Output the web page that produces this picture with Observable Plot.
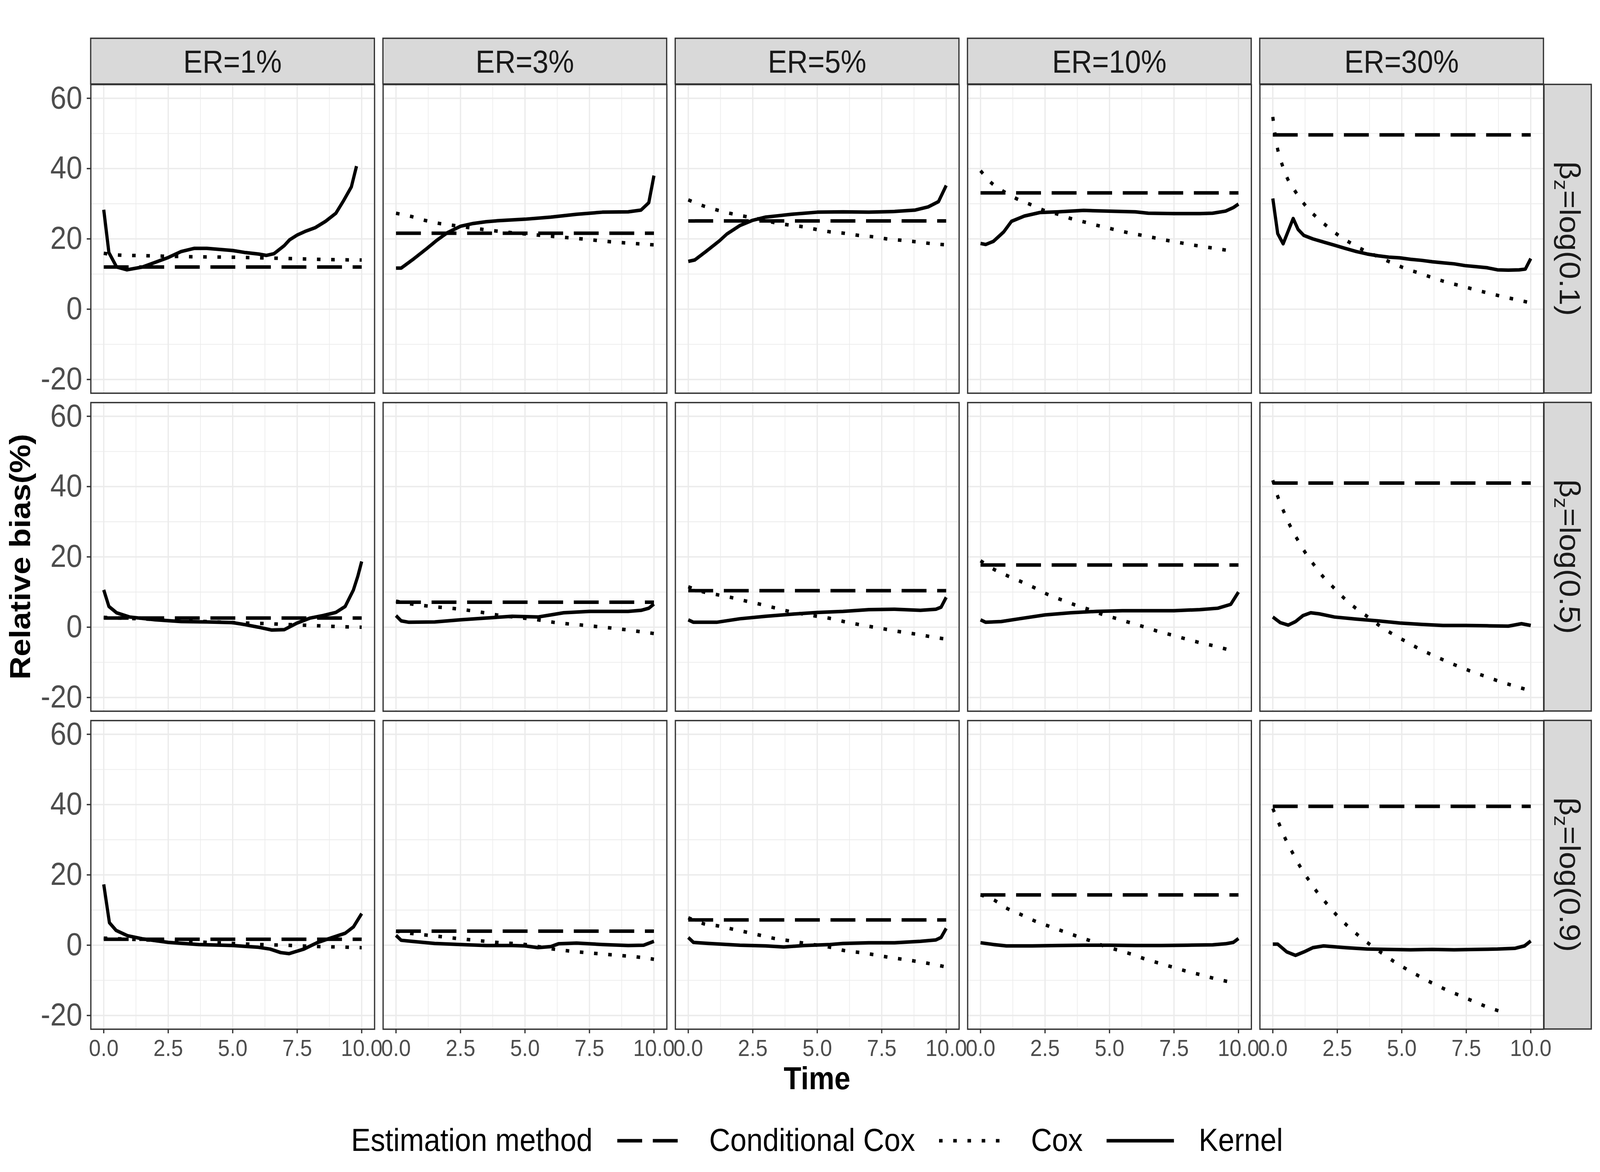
<!DOCTYPE html>
<html><head><meta charset="utf-8">
<script src="https://cdn.jsdelivr.net/npm/d3@7"></script>
<script src="https://cdn.jsdelivr.net/npm/@observablehq/plot@0.6"></script>
<style>
html,body{margin:0;padding:0;background:#fff;overflow:hidden;}
#page{width:4500px;height:3000px;transform-origin:0 0;background:#fff;}
#chart svg{display:block;}
#legend{position:relative;width:4500px;height:160px;font-family:'Liberation Sans',Arimo,Arial,sans-serif;font-size:82px;color:#000;}
#legend .row{position:absolute;top:0;height:160px;display:flex;align-items:center;white-space:nowrap;line-height:1;}
#legend svg{display:block;}
</style></head><body>
<div id="page"><div id="chart"></div><div id="legend"><div class="row" id="legendRow"></div></div></div>
<script>
// ---------- categories ----------
const erLevels = ["ER=1%", "ER=3%", "ER=5%", "ER=10%", "ER=30%"];
const betaLevels = ["log(0.1)", "log(0.5)", "log(0.9)"];
const methods = ["Conditional Cox", "Cox", "Kernel"];
const xTicks = [0, 2.5, 5, 7.5, 10];
const xMinor = [1.25, 3.75, 6.25, 8.75];
const yTicks = [-20, 0, 20, 40, 60];
const yMinor = [-10, 10, 30, 50];

// ---------- Conditional Cox (constant over time), rows = beta, cols = ER ----------
const condCox_b01 = [12.0, 21.6, 25.1, 33.1, 49.6];
const condCox_b05 = [2.6, 7.1, 10.4, 17.7, 41.0];
const condCox_b09 = [1.7, 4.0, 7.2, 14.3, 39.5];
const condCoxSpan = [0, 10];

// ---------- Cox [time, bias] ----------
const cox_b01_er1 = [[0,15.9],[0.6,15.4],[1.7,15.2],[2.8,15.0],[5.6,14.7],[6.7,14.5],[7.7,14.3],[8.8,14.1],[10,14.0]];
const cox_b01_er3 = [[0,27.3],[0.58,26.4],[1.16,25.2],[1.67,24.4],[2.26,23.8],[2.84,23.2],[4.44,21.8],[6.1,20.7],[7.2,20.0],[8.3,19.2],[9.4,18.6],[10,18.3]];
const cox_b01_er5 = [[0,31.1],[0.54,29.5],[1.12,28.2],[1.66,27.2],[2.2,26.4],[2.77,25.6],[3.3,24.7],[3.86,24.0],[4.4,23.5],[4.96,22.7],[5.5,22.0],[6.05,21.6],[6.6,21.0],[7.17,20.6],[7.7,20.0],[8.26,19.6],[8.8,19.2],[9.37,18.7],[10,18.3]];
const cox_b01_er10 = [[0,39.4],[0.44,35.8],[0.87,33.6],[1.38,31.5],[1.9,29.9],[2.43,28.2],[3,27.0],[3.5,25.8],[4.08,24.7],[4.6,23.7],[5.17,22.7],[5.7,21.8],[6.27,21.0],[6.82,20.2],[7.36,19.4],[7.9,18.7],[8.45,18.0],[9,17.4],[9.7,16.6]];
const cox_b01_er30 = [[0,54.7],[0.08,50.1],[0.18,45.8],[0.35,41.4],[0.56,37.3],[0.88,33.4],[1.23,29.8],[1.66,26.4],[2.1,23.6],[2.55,21.0],[3.02,18.8],[3.55,16.7],[4.06,15.0],[4.58,13.3],[5.13,11.6],[5.66,10.3],[6.18,9.0],[6.73,7.7],[7.26,6.7],[7.81,5.6],[8.35,4.6],[8.9,3.6],[9.45,2.7],[10,1.8]];
const cox_b05_er1 = [[0,2.8],[1,2.5],[2,2.2],[3,1.9],[4,1.6],[5,1.3],[6,1.1],[7,0.8],[8,0.5],[9,0.2],[10,0.0]];
const cox_b05_er3 = [[0,7.4],[0.6,6.6],[1.67,5.7],[2.26,5.3],[3.35,4.2],[3.9,3.5],[5.5,2.1],[6.1,1.4],[7.2,0.6],[8.3,-0.2],[8.9,-0.7],[9.4,-1.2],[10,-1.8]];
const cox_b05_er5 = [[0,11.5],[0.6,10.0],[1.15,9.2],[1.7,8.4],[2.26,7.4],[2.8,6.5],[3.35,5.5],[3.9,4.5],[5,3.1],[5.57,2.4],[6.1,1.5],[6.66,0.7],[7.2,0.0],[7.75,-0.7],[8.3,-1.4],[8.85,-2.0],[9.4,-2.7],[10,-3.4]];
const cox_b05_er10 = [[0,18.9],[0.51,16.5],[1.02,14.7],[1.56,13.0],[2.07,11.3],[2.58,9.4],[3.13,7.8],[3.64,6.4],[4.18,5.1],[4.7,3.7],[5.25,2.5],[5.79,1.3],[6.34,0.1],[6.85,-1.1],[7.4,-2.2],[7.94,-3.3],[8.5,-4.4],[9.04,-5.3],[9.7,-6.6]];
const cox_b05_er30 = [[0,41.8],[0.2,37.0],[0.43,32.8],[0.68,28.7],[0.96,24.9],[1.26,21.2],[1.61,17.6],[1.97,14.2],[2.38,11.1],[2.8,8.0],[3.25,5.2],[3.73,2.7],[4.2,0.1],[4.68,-2.1],[5.17,-4.1],[5.66,-6.1],[6.18,-7.9],[6.7,-9.6],[7.25,-11.3],[7.78,-12.8],[8.32,-14.2],[8.86,-15.6],[9.4,-16.8],[10,-18.1]];
const cox_b09_er1 = [[0,2.0],[1,1.7],[2,1.4],[3,1.1],[4,0.8],[5,0.5],[6,0.2],[7,0.0],[8,-0.3],[9,-0.5],[10,-0.7]];
const cox_b09_er3 = [[0,4.0],[0.54,3.4],[1.67,2.5],[2.26,2.0],[2.8,1.6],[3.9,0.8],[5,0.2],[6.1,-1.1],[7.2,-2.0],[8.3,-2.7],[9.4,-3.4],[10,-4.0]];
const cox_b09_er5 = [[0,7.8],[0.6,6.1],[1.15,5.5],[1.7,4.6],[2.26,3.7],[2.8,2.8],[3.35,1.9],[3.9,1.3],[4.47,0.6],[5.57,-0.7],[6.1,-1.6],[6.66,-2.1],[7.2,-2.7],[7.75,-3.4],[8.3,-4.0],[8.85,-4.6],[9.4,-5.3],[10,-6.2]];
const cox_b09_er10 = [[0,14.3],[0.51,12.9],[1.02,10.5],[1.57,8.7],[2.1,6.9],[2.62,5.5],[3.18,4.0],[3.72,2.6],[4.2,1.4],[4.74,-0.1],[5.28,-1.3],[5.83,-2.5],[6.37,-3.9],[6.92,-5.1],[7.43,-6.2],[7.99,-7.4],[8.53,-8.4],[9.08,-9.5],[9.75,-10.6]];
const cox_b09_er30 = [[0,38.9],[0.24,34.6],[0.48,30.4],[0.75,26.5],[1.04,22.6],[1.36,18.9],[1.7,15.3],[2.08,11.9],[2.47,8.6],[2.88,5.6],[3.33,2.7],[3.8,0.0],[4.26,-2.4],[4.73,-4.8],[5.23,-7.0],[5.72,-9.0],[6.24,-11.0],[6.76,-12.8],[7.28,-14.4],[7.79,-16.0],[8.32,-17.6],[8.9,-19.0]];

// ---------- Kernel [time, bias] ----------
const ker_b01_er1 = [[0,28.3],[0.2,16.1],[0.5,12.0],[0.9,11.2],[1.5,12.0],[2.5,14.7],[3,16.4],[3.5,17.3],[4,17.3],[5,16.7],[5.5,16.1],[6,15.7],[6.3,15.3],[6.6,15.8],[7,18.1],[7.2,19.7],[7.5,21.1],[7.8,22.1],[8.2,23.2],[8.6,25.0],[9,27.3],[9.3,30.9],[9.6,34.8],[9.8,40.7]];
const ker_b01_er3 = [[0,11.7],[0.2,11.7],[0.7,14.4],[1.2,17.3],[1.6,19.7],[2,21.8],[2.5,23.6],[3,24.4],[3.5,24.9],[4,25.2],[5,25.6],[6,26.2],[7,27.0],[8,27.6],[9,27.7],[9.5,28.2],[9.8,30.3],[10,38.0]];
const ker_b01_er5 = [[0,13.6],[0.25,14.0],[0.7,16.5],[1.2,19.4],[1.5,21.4],[2,23.8],[2.5,25.3],[3,26.2],[3.5,26.6],[4,27.0],[5,27.6],[6,27.7],[7,27.6],[8,27.8],[8.8,28.2],[9.3,29.1],[9.7,30.6],[10,35.2]];
const ker_b01_er10 = [[0,18.7],[0.2,18.4],[0.5,19.3],[0.9,22.0],[1.2,25.0],[1.7,26.5],[2.3,27.5],[3,27.7],[4,28.1],[5,27.9],[6,27.7],[6.5,27.3],[7.5,27.2],[8.5,27.2],[9,27.3],[9.5,27.9],[9.8,28.9],[10,29.9]];
const ker_b01_er30 = [[0,31.5],[0.19,21.5],[0.4,18.6],[0.79,25.8],[0.98,22.7],[1.2,21.0],[1.55,20.0],[1.97,19.1],[2.39,18.2],[2.81,17.3],[3.24,16.4],[3.66,15.7],[4.08,15.2],[4.5,14.8],[4.92,14.6],[5.34,14.2],[5.76,13.9],[6.18,13.5],[6.6,13.2],[7.03,12.9],[7.45,12.4],[7.87,12.1],[8.3,11.8],[8.71,11.2],[9.13,11.1],[9.55,11.2],[9.79,11.4],[10,14.4]];
const ker_b05_er1 = [[0,10.6],[0.2,5.9],[0.5,4.1],[1,2.9],[2,2.1],[3,1.6],[4,1.5],[5,1.3],[5.5,0.7],[6,0.0],[6.5,-0.8],[7,-0.7],[7.5,1.2],[8,2.6],[8.5,3.3],[9,4.2],[9.36,5.9],[9.68,10.6],[9.85,14.5],[10,18.7]];
const ker_b05_er3 = [[0,3.3],[0.2,1.8],[0.5,1.4],[1.5,1.5],[2.5,2.1],[3.5,2.6],[4.5,3.1],[5.5,2.9],[6,3.5],[6.5,4.1],[7.5,4.5],[8.5,4.5],[9,4.5],[9.5,4.8],[9.8,5.4],[10,6.6]];
const ker_b05_er5 = [[0,2.1],[0.2,1.4],[1.1,1.4],[2,2.4],[3,3.1],[4,3.7],[5,4.2],[6,4.5],[7,5.0],[8,5.1],[9,4.8],[9.6,5.1],[9.8,5.7],[10,8.5]];
const ker_b05_er10 = [[0,2.1],[0.2,1.4],[0.8,1.6],[1.5,2.4],[2.5,3.5],[3.5,4.1],[4.5,4.5],[5.5,4.7],[6.5,4.7],[7.5,4.7],[8.5,5.0],[9.2,5.4],[9.7,6.5],[10,10.0]];
const ker_b05_er30 = [[0,2.9],[0.29,1.3],[0.6,0.6],[0.88,1.6],[1.17,3.3],[1.47,4.1],[1.8,3.8],[2.39,2.9],[3.24,2.3],[4.08,1.8],[4.92,1.2],[5.76,0.8],[6.6,0.5],[7.45,0.5],[8.3,0.4],[9.13,0.3],[9.64,1.0],[10,0.5]];
const ker_b09_er1 = [[0,17.3],[0.22,6.4],[0.48,4.2],[0.92,2.7],[1.5,1.8],[2.5,0.8],[3.68,0.2],[5,-0.1],[6,-0.6],[6.45,-1.1],[6.86,-2.1],[7.18,-2.4],[7.76,-1.1],[8.27,0.7],[8.78,2.0],[9.36,3.4],[9.68,5.2],[10,9.0]];
const ker_b09_er3 = [[0,2.8],[0.2,1.4],[0.6,1.1],[1.5,0.5],[2.5,0.2],[3.5,-0.1],[4.5,-0.1],[5,-0.2],[5.5,-0.7],[6,-0.4],[6.3,0.4],[7,0.6],[8,0.2],[9,-0.1],[9.6,0.0],[10,1.1]];
const ker_b09_er5 = [[0,2.2],[0.2,0.8],[0.8,0.5],[2,0.0],[3,-0.2],[3.7,-0.5],[4.5,-0.1],[5.5,0.2],[6,0.5],[7,0.7],[8,0.7],[9,1.1],[9.6,1.5],[9.8,2.2],[10,4.8]];
const ker_b09_er10 = [[0,0.7],[0.5,0.2],[1,-0.2],[2,-0.2],[3,-0.1],[4,0.0],[5,0.0],[6,-0.1],[7,-0.1],[8,0.0],[9,0.1],[9.5,0.4],[9.8,0.8],[10,1.9]];
const ker_b09_er30 = [[0,0.3],[0.19,0.3],[0.54,-1.9],[0.88,-2.9],[1.21,-1.9],[1.55,-0.7],[1.97,-0.2],[2.81,-0.7],[3.66,-1.1],[4.5,-1.2],[5.34,-1.3],[6.18,-1.2],[7.03,-1.3],[7.87,-1.2],[8.71,-1.1],[9.38,-0.9],[9.76,-0.2],[10,1.2]];

// ---------- assemble tidy table ----------
const condCoxRows = [condCox_b01, condCox_b05, condCox_b09];
const coxRows = [
  [cox_b01_er1, cox_b01_er3, cox_b01_er5, cox_b01_er10, cox_b01_er30],
  [cox_b05_er1, cox_b05_er3, cox_b05_er5, cox_b05_er10, cox_b05_er30],
  [cox_b09_er1, cox_b09_er3, cox_b09_er5, cox_b09_er10, cox_b09_er30]
];
const kerRows = [
  [ker_b01_er1, ker_b01_er3, ker_b01_er5, ker_b01_er10, ker_b01_er30],
  [ker_b05_er1, ker_b05_er3, ker_b05_er5, ker_b05_er10, ker_b05_er30],
  [ker_b09_er1, ker_b09_er3, ker_b09_er5, ker_b09_er10, ker_b09_er30]
];
const table = [];
betaLevels.forEach((beta, i) => erLevels.forEach((er, j) => {
  condCoxSpan.forEach(t => table.push({beta, er, method: methods[0], t, y: condCoxRows[i][j]}));
  coxRows[i][j].forEach(([t, y]) => table.push({beta, er, method: methods[1], t, y}));
  kerRows[i][j].forEach(([t, y]) => table.push({beta, er, method: methods[2], t, y}));
}));
const byMethod = m => table.filter(d => d.method === m);

// ---------- plot ----------
const FONT = "'Liberation Sans', Arimo, Arial, sans-serif";
const W = 4500, H = 2840;
const LINE_W = 9;
const dashes = {"Conditional Cox": "70,30", "Cox": "10,30", "Kernel": null};

const chart = Plot.plot({
  width: W, height: H,
  marginLeft: 254, marginRight: 158, marginTop: 215, marginBottom: H - 2635,
  style: {fontFamily: FONT, background: "#ffffff", maxWidth: "none"},
  fx: {domain: erLevels, padding: 24.5 / 822.5, axis: null, label: null},
  fy: {domain: betaLevels, padding: 24.5 / 814.83, axis: null, label: null},
  x: {domain: [-0.5, 10.5], label: null},
  y: {domain: [-23.9, 63.9], label: null},
  marks: [
    Plot.gridX(xMinor, {stroke: "#EBEBEB", strokeOpacity: 1, strokeWidth: 1.8}),
    Plot.gridY(yMinor, {stroke: "#EBEBEB", strokeOpacity: 1, strokeWidth: 1.8}),
    Plot.gridX(xTicks, {stroke: "#EBEBEB", strokeOpacity: 1, strokeWidth: 3.6}),
    Plot.gridY(yTicks, {stroke: "#EBEBEB", strokeOpacity: 1, strokeWidth: 3.6}),
    Plot.line(byMethod("Conditional Cox"), {x: "t", y: "y", fx: "er", fy: "beta", stroke: "#000", strokeWidth: LINE_W, strokeDasharray: dashes["Conditional Cox"], strokeLinecap: "butt"}),
    Plot.line(byMethod("Cox"), {x: "t", y: "y", fx: "er", fy: "beta", stroke: "#000", strokeWidth: LINE_W, strokeDasharray: dashes["Cox"], strokeLinecap: "butt", curve: "monotone-x"}),
    Plot.line(byMethod("Kernel"), {x: "t", y: "y", fx: "er", fy: "beta", stroke: "#000", strokeWidth: LINE_W, strokeLinecap: "butt", strokeLinejoin: "round"}),
    Plot.frame({stroke: "#333333", strokeWidth: 3.5}),
    Plot.axisX({anchor: "bottom", ticks: xTicks, tickFormat: d3.format(".1f"), tickSize: 11, tickPadding: 15, fontSize: 60, stroke: "#333333", strokeWidth: 3.5, fill: "#4D4D4D", label: null}),
    Plot.axisY({anchor: "left", ticks: yTicks, tickFormat: d => String(d), tickSize: 11, tickPadding: 13, fontSize: 81, stroke: "#333333", strokeWidth: 3.5, fill: "#4D4D4D", label: null})
  ]
});
document.getElementById("chart").append(chart);

// ---------- facet strips & axis titles ----------
const svg = d3.select(chart);
const fxS = chart.scale("fx"), fyS = chart.scale("fy");
const strips = svg.append("g").attr("font-family", FONT);
erLevels.forEach(er => {
  const x0 = fxS.apply(er), w = fxS.bandwidth;
  strips.append("rect").attr("x", x0).attr("y", 98).attr("width", w).attr("height", 215 - 98)
    .attr("fill", "#D9D9D9").attr("stroke", "#333333").attr("stroke-width", 3.5);
  strips.append("text").attr("x", x0 + w / 2).attr("y", 186).attr("text-anchor", "middle")
    .attr("font-size", 81).attr("fill", "#1A1A1A").text(er);
});
const lastEr = erLevels[erLevels.length - 1];
const stripX = fxS.apply(lastEr) + fxS.bandwidth + 1.5;
betaLevels.forEach(beta => {
  const y0 = fyS.apply(beta), h = fyS.bandwidth;
  strips.append("rect").attr("x", stripX).attr("y", y0).attr("width", 133).attr("height", h)
    .attr("fill", "#D9D9D9").attr("stroke", "#333333").attr("stroke-width", 3.5);
  const t = strips.append("text")
    .attr("transform", `translate(${stripX + 44},${y0 + h / 2}) rotate(90)`)
    .attr("text-anchor", "middle").attr("font-size", 81).attr("fill", "#1A1A1A");
  t.append("tspan").text("β");
  t.append("tspan").attr("font-size", 54).attr("dy", 15).text("z");
  t.append("tspan").attr("dy", -15).text("=" + beta);
});
svg.append("text").attr("x", (254 + (W - 158)) / 2).attr("y", 2788).attr("text-anchor", "middle")
  .attr("font-family", FONT).attr("font-size", 81).attr("font-weight", "bold").attr("fill", "#000").text("Time");
svg.append("text").attr("transform", `translate(85,${(215 + 2635) / 2}) rotate(-90)`).attr("text-anchor", "middle")
  .attr("font-family", FONT).attr("font-size", 82).attr("font-weight", "bold").attr("fill", "#000").text("Relative bias(%)");

// ---------- legend (HTML, below the plot) ----------
const row = document.getElementById("legendRow");
const addText = (txt, gapAfter) => {
  const s = document.createElement("span");
  s.textContent = txt;
  s.style.marginRight = gapAfter + "px";
  s.style.position = "relative";
  s.style.top = "-2px";
  row.append(s);
};
const addKey = (m, gapAfter) => {
  const k = d3.create("svg").attr("width", 190).attr("height", 40).style("margin-right", gapAfter + "px");
  const ln = k.append("line").attr("x1", 0).attr("x2", 190).attr("y1", 20).attr("y2", 20)
    .attr("stroke", "#000").attr("stroke-width", LINE_W).attr("stroke-linecap", "butt");
  if (dashes[m]) ln.attr("stroke-dasharray", dashes[m]);
  row.append(k.node());
};
addText("Estimation method", 69);
methods.forEach((m, i) => { addKey(m, 69); addText(m, i < methods.length - 1 ? 67 : 0); });
const rw = row.offsetWidth;
row.style.left = ((254 + (W - 158)) / 2 - rw / 2) + "px";

// ---------- fit the 4500x3000 layout into the actual viewport ----------
const vw = document.documentElement.clientWidth || window.innerWidth;
const vh = document.documentElement.clientHeight || window.innerHeight;
const kx = Math.min(1, vw / 4500), ky = Math.min(1, vh / 3000);
if (kx < 1 || ky < 1) document.getElementById("page").style.transform = `scale(${kx},${ky})`;
</script></body></html>
